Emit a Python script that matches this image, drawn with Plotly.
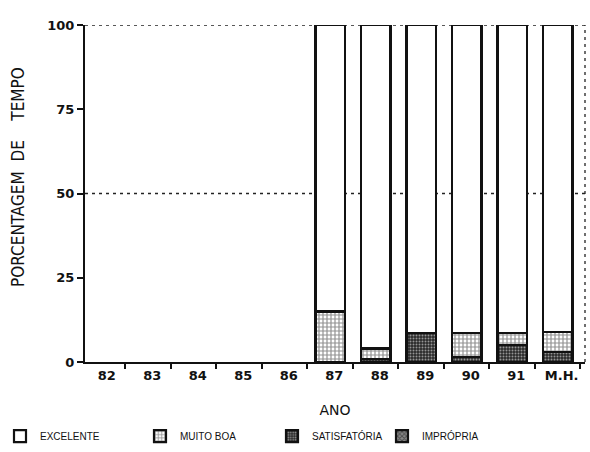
import plotly.graph_objects as go

anos = ["82", "83", "84", "85", "86", "87", "88", "89", "90", "91", "M.H."]
excelente = [None, None, None, None, None, 85, 96, 91.5, 91.5, 91.5, 91]
muito_boa = [None, None, None, None, None, 15, 3, 0, 7, 3.5, 6]
satisfatoria = [None, None, None, None, None, 0, 1, 8.5, 1.5, 5, 3]
impropria = [None, None, None, None, None, 0, 0, 0, 0, 0, 0]

font = "DejaVu Sans, Liberation Sans, sans-serif"
line = dict(color="#111", width=2.2)

fig = go.Figure()
fig.add_bar(x=anos, y=impropria, name="IMPRÓPRIA", legend="legend4",
            marker=dict(color="#444", line=line,
                        pattern=dict(shape="x", fgcolor="#111", bgcolor="#888", size=4, solidity=0.5)))
fig.add_bar(x=anos, y=satisfatoria, name="SATISFATÓRIA", legend="legend3",
            marker=dict(color="#333", line=line,
                        pattern=dict(shape=".", fgcolor="#fff", bgcolor="#2a2a2a", size=3, solidity=0.35)))
fig.add_bar(x=anos, y=muito_boa, name="MUITO BOA", legend="legend2",
            marker=dict(color="#fff", line=line,
                        pattern=dict(shape="+", fgcolor="#222", bgcolor="#fff", size=4, solidity=0.5)))
fig.add_bar(x=anos, y=excelente, name="EXCELENTE", legend="legend",
            marker=dict(color="#fff", line=line))

fig.update_layout(
    barmode="stack",
    bargap=0.35,
    width=590, height=452,
    margin=dict(l=85, r=5, t=25, b=90, autoexpand=False),
    paper_bgcolor="white", plot_bgcolor="white",
    font=dict(family=font, size=11, color="#111"),
    showlegend=True,
)
leg_common = dict(orientation="h", yanchor="middle", y=0.035, xanchor="left",
                  xref="container", yref="container",
                  font=dict(family="Liberation Sans, Arial, sans-serif", size=10, color="#111"),
                  bgcolor="rgba(0,0,0,0)", itemwidth=30, tracegroupgap=0)
fig.update_layout(
    legend=dict(x=0.0, **leg_common),
    legend2=dict(x=140 / 590, **leg_common),
    legend3=dict(x=272 / 590, **leg_common),
    legend4=dict(x=382 / 590, **leg_common),
)
fig.update_xaxes(
    type="category", range=[-0.39, 10.6], automargin=False,
    showline=True, linecolor="#111", linewidth=2,
    ticks="outside", ticklen=5, tickcolor="#111", tickwidth=1.5,
    tickson="boundaries", showgrid=False, ticklabelshift=4,
    title=dict(text="ANO", font=dict(size=14), standoff=24),
    tickfont=dict(size=13, weight="bold"),
)
fig.update_yaxes(
    range=[0, 100], tickvals=[0, 25, 50, 75, 100], automargin=False,
    showline=True, linecolor="#111", linewidth=2,
    ticks="outside", ticklen=6, tickcolor="#111", tickwidth=1.5,
    showgrid=False, zeroline=False,
    tickfont=dict(size=13, weight="bold"),
)
fig.add_annotation(
    text="PORCENTAGEM\u00a0 DE\u00a0\u00a0\u00a0 TEMPO", textangle=-90,
    xref="paper", yref="paper", x=(18 - 85) / 500, y=(362 - 177) / 337,
    showarrow=False, xanchor="center", yanchor="middle",
    font=dict(family="DejaVu Sans Condensed, DejaVu Sans, sans-serif", size=17, color="#111"),
)
dot = dict(color="#222", width=1.3, dash="3px,4px")
fig.add_shape(type="line", xref="paper", yref="y", x0=0, x1=1, y0=50, y1=50, line=dot, layer="below")
fig.add_shape(type="line", xref="paper", yref="y", x0=0, x1=1, y0=100, y1=100, line=dot, layer="below")
fig.add_shape(type="line", xref="paper", yref="paper", x0=1, x1=1, y0=0, y1=1, line=dot, layer="below")

fig.write_html("out.html", post_script="document.body.style.margin='0px';",
               config={"displayModeBar": False})
